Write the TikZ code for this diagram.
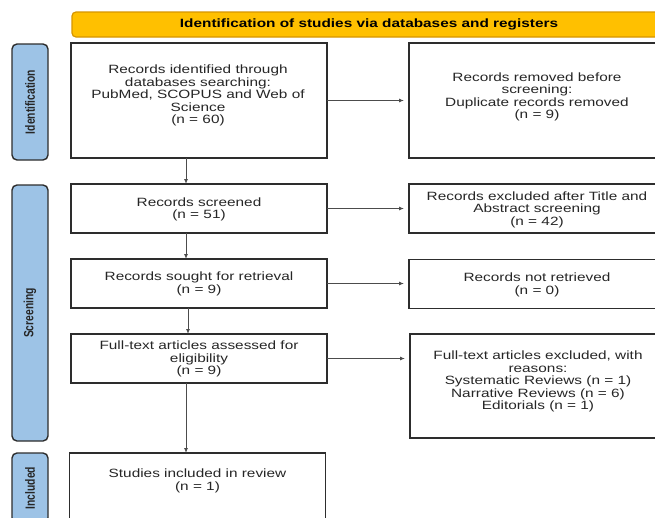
\documentclass[tikz,border=0pt]{standalone}
\usepackage{graphicx}
\usepackage{fontspec}
\setmainfont{Liberation Sans}[FakeStretch=1.28]
\newfontfamily\labelfont{Liberation Sans}
\usetikzlibrary{arrows.meta}
\definecolor{bannerfill}{RGB}{255,192,0}
\definecolor{bannerdraw}{RGB}{214,150,0}
\definecolor{labfill}{RGB}{157,195,230}
\definecolor{ink}{RGB}{38,38,38}
\definecolor{edge}{RGB}{45,45,45}
\begin{document}
\begin{tikzpicture}[x=1pt,y=-1pt,
  box/.style={draw=edge, line width=1.4pt, fill=white, inner sep=0pt, outer sep=0pt, minimum width=256pt},
  txt/.style={text=ink, align=center, font=\fontsize{12}{12.5}\selectfont, inner sep=0pt},
  lab/.style={draw=edge, line width=1.4pt, fill=labfill, rounded corners=5pt, inner sep=0pt, minimum width=36pt},
  labtxt/.style={rotate=90, text=ink, font=\labelfont\bfseries\fontsize{10.3}{12}\selectfont, inner sep=0pt},
  arr/.style={draw=edge!85, line width=0.9pt, -{Latex[length=5pt,width=4pt]}},
]
\useasboundingbox (0,0) rectangle (655,517);
\clip (0,0) rectangle (655,517);
\fill[white] (0,0) rectangle (655,517);

% banner
\node[draw=bannerdraw, line width=1.2pt, fill=bannerfill, rounded corners=4pt,
      minimum width=594pt, minimum height=25pt, inner sep=0pt] (banner) at (369,24.5) {};
\node[text=black, font=\bfseries\fontsize{12}{12}\selectfont, inner sep=0pt] (bannertxt) at (banner.center)
  {Identification of studies via databases and registers};

% side labels
\node[lab, minimum height=116pt] (L1) at (30,102) {};
\node[labtxt] (L1t) at (L1.center) {\scalebox{1}[1.3]{Identification}};
\node[lab, minimum height=256pt] (L2) at (30,313) {};
\node[labtxt] (L2t) at (L2.center) {\scalebox{1}[1.3]{Screening}};
\node[lab, minimum height=70pt] (L3) at (30,488) {};
\node[labtxt] (L3t) at (L3.center) {\scalebox{1}[1.3]{Included}};

% left column
\node[box, minimum height=115pt] (B1) at (199,100.5) {};
\node[txt] (B1t) at (198,95.5) {Records identified through\\databases searching:\\PubMed, SCOPUS and Web of\\Science\\(n = 60)};
\node[box, minimum height=49pt] (B2) at (199,208.5) {};
\node[txt] (B2t) at (199,209.5) {Records screened\\(n = 51)};
\node[box, minimum height=49pt] (B3) at (199,283.5) {};
\node[txt] (B3t) at (199,284) {Records sought for retrieval\\(n = 9)};
\node[box, minimum height=49pt] (B4) at (199,358.5) {};
\node[txt] (B4t) at (199,359) {Full-text articles assessed for\\eligibility\\(n = 9)};
\node[box, minimum height=110pt] (B5) at (197.5,508) {};
\node[txt] (B5t) at (197.5,481) {Studies included in review\\(n = 1)};

% right column
\node[box, minimum height=115pt] (R1) at (537,100.5) {};
\node[txt] (R1t) at (537,97) {Records removed before\\screening:\\Duplicate records removed\\(n = 9)};
\node[box, minimum height=49pt] (R2) at (537,208.5) {};
\node[txt] (R2t) at (537,209.5) {Records excluded after Title and\\Abstract screening\\(n = 42)};
\node[box, minimum height=49pt] (R3) at (537,284) {};
\node[txt] (R3t) at (537,285) {Records not retrieved\\(n = 0)};
\node[box, minimum height=104pt] (R4) at (538,386) {};
\node[txt] (R4t) at (538,381.5) {Full-text articles excluded, with\\reasons:\\Systematic Reviews (n = 1)\\Narrative Reviews (n = 6)\\Editorials (n = 1)};

% connectors
\coordinate (ax) at (186,0);
\coordinate (bx) at (188,0);
\draw[arr] (ax |- B1.south) -- (ax |- B2.north);
\draw[arr] (ax |- B2.south) -- (ax |- B3.north);
\draw[arr] (bx |- B3.south) -- (bx |- B4.north);
\draw[arr] (ax |- B4.south) -- (ax |- B5.north);
\draw[arr, shorten >=5pt] (B1.east) -- (B1.east -| R1.west);
\draw[arr, shorten >=5pt] (B2.east) -- (B2.east -| R2.west);
\draw[arr, shorten >=5pt] (B3.east) -- (B3.east -| R3.west);
\draw[arr, shorten >=5pt] (B4.east) -- (B4.east -| R4.west);
\end{tikzpicture}
\end{document}
